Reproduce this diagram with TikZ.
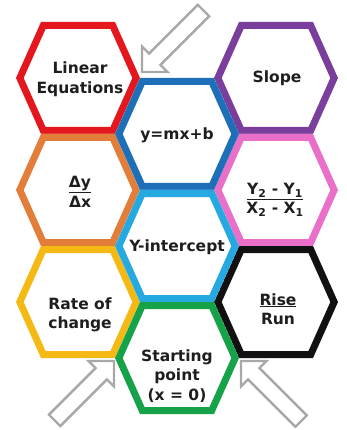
\documentclass[tikz,border=0pt]{standalone}
\usepackage{fontspec}
\setmainfont{DejaVu Sans}
\usetikzlibrary{positioning}
\definecolor{HexRed}{RGB}{228,23,31}
\definecolor{HexPurple}{RGB}{122,62,157}
\definecolor{HexBlue}{RGB}{29,111,184}
\definecolor{HexOrange}{RGB}{226,125,58}
\definecolor{HexPink}{RGB}{234,111,201}
\definecolor{HexSky}{RGB}{38,169,225}
\definecolor{HexYellow}{RGB}{245,185,21}
\definecolor{HexBlack}{RGB}{17,17,17}
\definecolor{HexGreen}{RGB}{22,162,73}
\definecolor{TextGray}{RGB}{30,30,30}
\definecolor{ArrowGray}{RGB}{168,168,168}
\tikzset{
  hexcell/.style={line width=14pt, line join=miter, fill=white},
  celltext/.style={font=\fontsize{15.5}{19.5}\selectfont\bfseries, text=TextGray, align=center, inner sep=0pt},
  hollowarrow/.style={draw=ArrowGray, fill=white, line width=2.4pt, line join=miter}
}
% hexagon cell: x, y, colour (stroke kept inside the outline)
\newcommand{\hexcell}[3]{%
  \begin{scope}[shift={(#1,#2)}]
    \clip (-62,0) -- (-37,-56) -- (37,-56) -- (62,0) -- (37,56) -- (-37,56) -- cycle;
    \draw[hexcell, draw=#3] (-62,0) -- (-37,-56) -- (37,-56) -- (62,0) -- (37,56) -- (-37,56) -- cycle;
  \end{scope}}
% hollow block arrow: tip x, tip y, direction, length
\newcommand{\hollowarrow}[4]{%
  \begin{scope}[shift={(#1,#2)}, rotate=#3]
    \draw[hollowarrow] (0,0) -- (-18,18) -- (-18,8) -- (-#4,8) -- (-#4,-8) -- (-18,-8) -- (-18,-18) -- cycle;
  \end{scope}}

\begin{document}
\begin{tikzpicture}[x=1pt, y=-1pt]
  \useasboundingbox (0,0) rectangle (347,430);
  % Arrows
  \hollowarrow{142}{72}{225}{87}
  \hollowarrow{114}{361}{45}{84}
  \hollowarrow{241}{361}{135}{85}
  % Side columns
  \hexcell{78}{78}{HexRed}
  \hexcell{276}{78}{HexPurple}
  \hexcell{78}{190}{HexOrange}
  \hexcell{276}{190}{HexPink}
  \hexcell{78}{302}{HexYellow}
  \hexcell{276}{302}{HexBlack}
  % Middle column
  \hexcell{177}{134}{HexBlue}
  \hexcell{177}{246}{HexSky}
  \hexcell{177}{358}{HexGreen}
  % Labels
  \node[celltext] (lineq) at (80,79) {Linear\\Equations};
  \node[celltext] (slope) at (277,78) {Slope};
  \node[celltext] (ymxb) at (177,135) {y=mx+b};
  \node[celltext] (dydx) at (80,192) {\underline{Δy}\\Δx};
  \node[celltext] (twopt) at (275,200) {\underline{Y\textsubscript{2} - Y\textsubscript{1}}\\X\textsubscript{2} - X\textsubscript{1}};
  \node[celltext] (yint) at (177,247) {Y-intercept};
  \node[celltext] (rate) at (80,315) {Rate of\\change};
  \node[celltext] (rise) at (278,309) {\underline{Rise}\\Run};
  \node[celltext] (start) at (177,376) {Starting\\point\\(x = 0)};
\end{tikzpicture}
\end{document}
